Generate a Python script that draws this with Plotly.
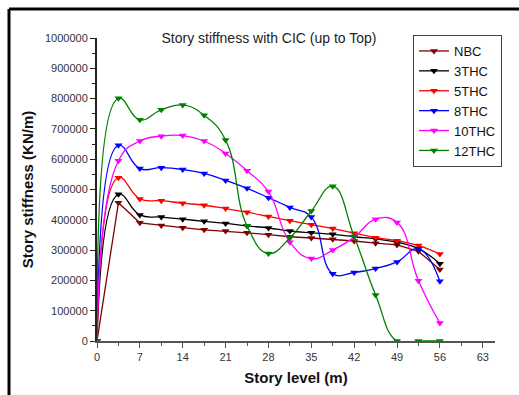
import plotly.graph_objects as go

story_levels = [0, 3.5, 7, 10.5, 14, 17.5, 21, 24.5, 28, 31.5, 35, 38.5, 42, 45.5, 49, 52.5, 56]

nbc = [0, 456000, 390000, 381000, 374000, 367000, 363000, 357000, 351000, 344000, 340000, 336000, 330000, 323000, 317000, 296000, 236000]
thc3 = [0, 484000, 416000, 409000, 402000, 395000, 388000, 380000, 373000, 363000, 357000, 352000, 344000, 337000, 326000, 305000, 255000]
thc5 = [0, 539000, 469000, 463000, 455000, 448000, 437000, 425000, 411000, 397000, 384000, 371000, 356000, 341000, 331000, 315000, 287000]
thc8 = [0, 646000, 569000, 572000, 566000, 553000, 530000, 504000, 473000, 441000, 409000, 222000, 226000, 239000, 261000, 304000, 197000]
thc10 = [0, 595000, 660000, 676000, 678000, 660000, 619000, 562000, 493000, 326000, 272000, 300000, 342000, 402000, 391000, 199000, 59000]
thc12 = [0, 801000, 730000, 763000, 779000, 745000, 663000, 380000, 289000, 340000, 429000, 511000, 345000, 152000, 0, 0, 0]

series_names = ["NBC", "3THC", "5THC", "8THC", "10THC", "12THC"]
series_values = [nbc, thc3, thc5, thc8, thc10, thc12]
colors = ["#800000", "#000000", "#FF0000", "#0000FF", "#FF00FF", "#008000"]
shapes_ = ["linear", "spline", "spline", "spline", "spline", "spline"]

fig = go.Figure()
for name, vals, col, shp in zip(series_names, series_values, colors, shapes_):
    line = dict(color=col, width=1.3, shape=shp)
    if shp == "spline":
        line["smoothing"] = 1.3
    fig.add_trace(go.Scatter(
        x=story_levels, y=vals, name=name, mode="lines+markers",
        line=line,
        marker=dict(symbol="triangle-down", size=7, color=col),
    ))

# plot-area geometry (pixels)
W, H = 519, 395
L, R, T, B = 97, 495, 38, 341
pw, ph = R - L, B - T

def px_x(p):
    return (p - L) / pw

def px_y(p):
    return (B - p) / ph

fig.update_layout(
    width=W, height=H,
    margin=dict(l=L, r=W - R, t=T, b=H - B),
    paper_bgcolor="white", plot_bgcolor="white",
    font=dict(family="Arial, Liberation Sans, sans-serif", color="#222"),
    title=dict(text="Story stiffness with CIC (up to Top)", x=269 / W,
               xanchor="center", y=1 - 38 / H, yanchor="middle",
               font=dict(size=14, color="#222")),
    showlegend=True,
    legend=dict(x=px_x(413), y=px_y(35), xanchor="left", yanchor="top",
                bordercolor="#444", borderwidth=1, bgcolor="white",
                font=dict(size=13, color="#111"), itemwidth=30,
                tracegroupgap=0),
    xaxis=dict(range=[0, 65], dtick=7, tick0=0, showgrid=False, zeroline=False,
               showline=True, linecolor="#555", linewidth=2,
               ticks="outside", ticklen=5, tickcolor="#555", tickwidth=1,
               minor=dict(dtick=3.5, ticks="outside", ticklen=3, tickcolor="#555"),
               tickfont=dict(size=11, color="#333"),
               title=dict(text="<b>Story level (m)</b>", font=dict(size=15, color="#111"), standoff=10)),
    yaxis=dict(range=[0, 1000000], dtick=100000, tick0=0, showgrid=False, zeroline=False,
               showline=True, linecolor="#222", linewidth=2, tickformat="d",
               ticks="outside", ticklen=5, tickcolor="#222", tickwidth=1,
               minor=dict(dtick=50000, ticks="outside", ticklen=3, tickcolor="#222"),
               tickfont=dict(size=11, color="#333"),
               title=dict(text="<b>Story stiffness (KN/m)</b>", font=dict(size=15, color="#111"), standoff=8)),
    shapes=[
        dict(type="line", xref="paper", yref="paper", x0=px_x(9), x1=px_x(530), y0=px_y(9), y1=px_y(9),
             line=dict(color="black", width=3)),
        dict(type="line", xref="paper", yref="paper", x0=px_x(9), x1=px_x(9), y0=px_y(9), y1=px_y(410),
             line=dict(color="black", width=3)),
    ],
)

fig.write_html("out.html")
